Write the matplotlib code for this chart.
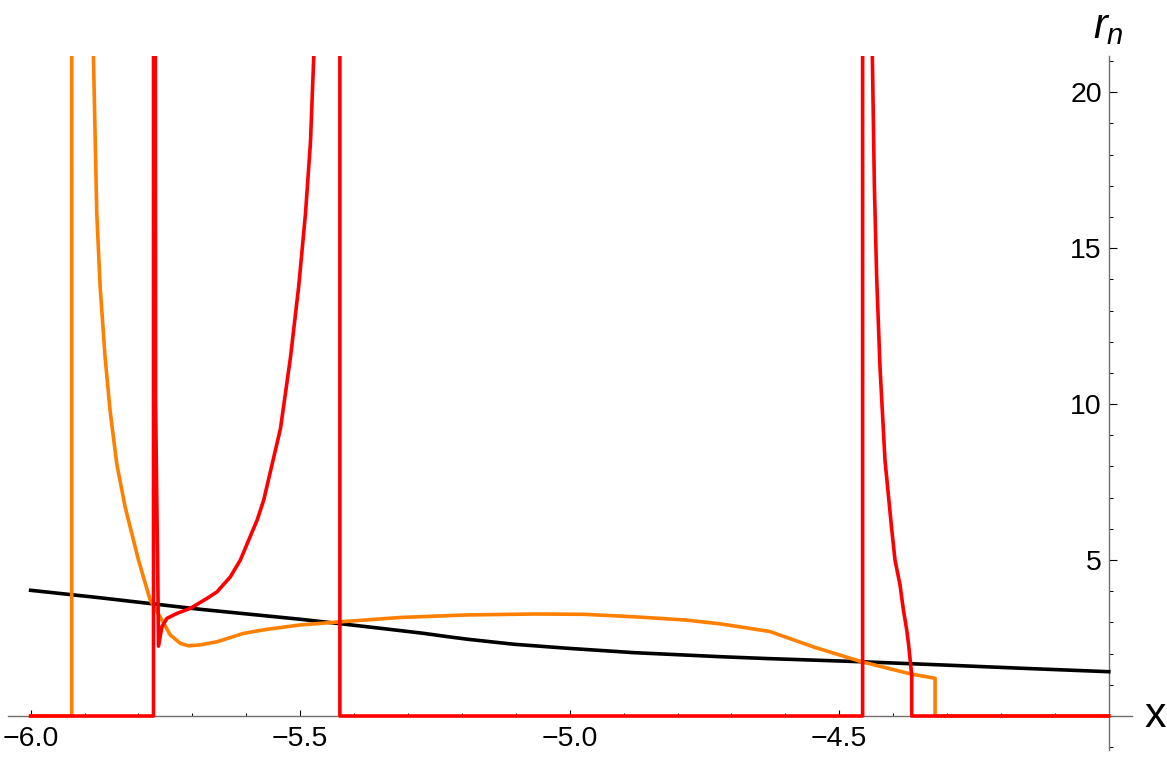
import matplotlib
matplotlib.use('Agg')
import matplotlib.pyplot as plt
from matplotlib.ticker import FixedLocator

plt.rcParams['font.family'] = ['Liberation Sans', 'DejaVu Sans']
plt.rcParams['mathtext.fontset'] = 'custom'
plt.rcParams['mathtext.it'] = 'Liberation Sans:italic'
plt.rcParams['mathtext.rm'] = 'Liberation Sans'

# values; 30 stands for "above the plot range"
black_x = [-6.0, -5.871, -5.685, -5.499, -5.426, -5.35, -5.271, -5.225, -5.189,
           -5.1035, -5.003, -4.880, -4.793, -4.719, -4.631, -4.459, -4.3, -4.161, -4.0]
black_y = [4.03, 3.79, 3.42, 3.10, 2.96, 2.81, 2.65, 2.54, 2.46,
           2.30, 2.17, 2.03, 1.96, 1.90, 1.84, 1.74, 1.63, 1.53, 1.42]

orange_x = [-6.0, -5.9238, -5.9238, -5.8860, -5.8836, -5.8773, -5.8712, -5.8619, -5.8526,
            -5.8401, -5.8247, -5.8186, -5.8000, -5.7783, -5.7565, -5.7411, -5.7225, -5.7071,
            -5.6853, -5.6543, -5.6048, -5.5613, -5.4994, -5.4251, -5.3136, -5.1896, -5.0658,
            -4.9729, -4.8800, -4.7870, -4.7188, -4.6290, -4.5454, -4.4586, -4.3656, -4.3223,
            -4.3223, -4.0]
orange_y = [0, 0, 30, 30, 21.2, 16.1, 13.8, 11.5, 9.78,
            8.07, 6.70, 6.28, 5.0, 3.72, 3.08, 2.60, 2.33, 2.25,
            2.28, 2.38, 2.65, 2.78, 2.92, 3.02, 3.16, 3.24, 3.27,
            3.26, 3.18, 3.08, 2.95, 2.71, 2.20, 1.74, 1.34, 1.21,
            0, 0]

red_x = [-6.0, -5.7721, -5.7721, -5.7690, -5.7682, -5.7660, -5.7645, -5.7628, -5.7565,
         -5.7472, -5.7286, -5.7039, -5.6729, -5.6543, -5.6296, -5.6110, -5.5955, -5.5799,
         -5.5677, -5.5366, -5.5180, -5.5026, -5.4902, -5.4809, -5.4747, -5.4725, -5.4264,
         -5.4264, -4.4567, -4.4567, -4.4395, -4.4387, -4.4349, -4.4307, -4.4245, -4.4152,
         -4.4028, -4.3966, -4.3873, -4.3810, -4.3749, -4.3717, -4.3656, -4.3656, -4.0]
red_y = [0, 0, 30, 30, 10.0, 6.9, 5.0, 2.24, 2.86,
         3.13, 3.29, 3.45, 3.77, 3.98, 4.46, 5.0, 5.64, 6.28,
         6.92, 9.21, 11.5, 13.8, 16.1, 18.4, 21.2, 30, 30,
         0, 0, 30, 30, 21.2, 17.0, 14.1, 11.2, 8.2,
         6.0, 5.0, 4.2, 3.4, 2.76, 2.33, 1.31, 0, 0]

x_major = [-6.0, -5.5, -5.0, -4.5]
x_labels = ['\u22126.0', '\u22125.5', '\u22125.0', '\u22124.5']
x_minor = [-5.9, -5.8, -5.7, -5.6, -5.4, -5.3, -5.2, -5.1, -4.9, -4.8, -4.7, -4.6,
           -4.4, -4.3, -4.2, -4.1]
y_major = [5, 10, 15, 20]
y_minor = [-1, 1, 2, 3, 4, 6, 7, 8, 9, 11, 12, 13, 14, 16, 17, 18, 19, 21]

fig = plt.figure(figsize=(11.67, 7.57), dpi=100)
ax = fig.add_axes([0.00686, 0.00925, 0.96315, 0.91677])

lw = 2.6
ax.plot(black_x, black_y, color='black', lw=lw, zorder=3, solid_joinstyle='round')
ax.plot(orange_x, orange_y, color='#ff8000', lw=lw, zorder=4, solid_joinstyle='round')
ax.plot(red_x, red_y, color='#ff0000', lw=lw, zorder=5, solid_joinstyle='round')

ax.set_xlim(-6.042, -3.957)
ax.set_ylim(-1.09, 21.16)

axis_col = '#707070'
ax.spines['top'].set_visible(False)
ax.spines['right'].set_visible(False)
ax.spines['bottom'].set_position(('data', 0))
ax.spines['left'].set_position(('data', -4.0))
for s in ['bottom', 'left']:
    ax.spines[s].set_color(axis_col)
    ax.spines[s].set_linewidth(1.0)
    ax.spines[s].set_zorder(2)

ax.xaxis.set_major_locator(FixedLocator(x_major))
ax.set_xticklabels(x_labels)
ax.xaxis.set_minor_locator(FixedLocator(x_minor))
ax.yaxis.set_major_locator(FixedLocator(y_major))
ax.yaxis.set_minor_locator(FixedLocator(y_minor))

ax.tick_params(axis='x', which='major', direction='in', length=4.3, width=0.8,
               color='black', labelsize=20.5, pad=7)
ax.tick_params(axis='x', which='minor', direction='in', length=2.4, width=0.7, color='black')
ax.tick_params(axis='y', which='major', direction='in', length=5.5, width=0.8,
               color='black', labelsize=20.5, pad=5)
ax.tick_params(axis='y', which='minor', direction='in', length=3.1, width=0.7, color='black')

ax.annotate('x', xy=(1, 0), xycoords=('axes fraction', 'data'), xytext=(9, 0),
            textcoords='offset points', ha='left', va='center', fontsize=31)
ax.annotate(r'$r_n$', xy=(-4.0, 1), xycoords=('data', 'axes fraction'), xytext=(0, 13),
            textcoords='offset points', ha='center', va='baseline', fontsize=30)

fig.savefig('out.png', dpi=100)
